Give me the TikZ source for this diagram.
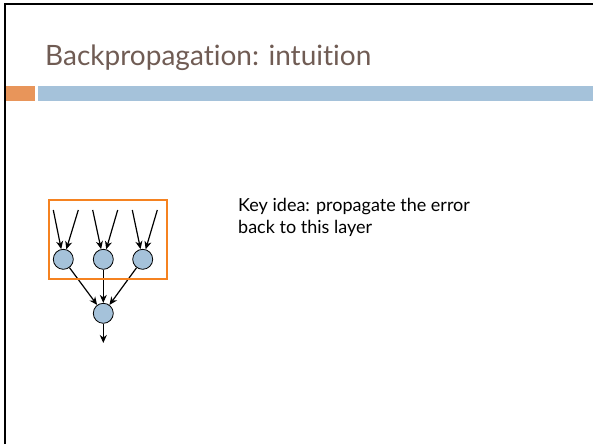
\documentclass[tikz,border=0pt]{standalone}
\usepackage{fontspec}
\setmainfont{Lato}[Ligatures={NoCommon, NoRare}]
\usetikzlibrary{arrows.meta, positioning}
\definecolor{titlebrown}{RGB}{112, 92, 84}
\definecolor{barorange}{RGB}{232, 149, 90}
\definecolor{barblue}{RGB}{165, 194, 218}
\definecolor{boxorange}{RGB}{245, 130, 32}

\tikzset{
    neuron/.style={circle, draw, fill=barblue, minimum size=20pt, inner sep=0pt, line width=0.8pt},
    wire/.style={-{Stealth[length=8pt, width=7pt, inset=2.5pt]}, line width=1.2pt}
}

\begin{document}
\begin{tikzpicture}[x=1pt, y=-1pt]
    \useasboundingbox (0,0) rectangle (593,444);

    % Khung trang chiếu: cạnh trái và cạnh trên
    \draw[line width=2pt] (5,444) -- (5,4) -- (593,4);

    % Tiêu đề
    \node[anchor=base west, inner sep=0pt, text=titlebrown, font=\fontsize{28}{28}\selectfont] (title) at (45,65) {Backpropagation: intuition};

    % Hai thanh ngang dưới tiêu đề
    \fill[barorange] (6,86) rectangle (35,100.5);
    \fill[barblue] (38,86) rectangle (593,100.5);

    % Lớp ẩn: ba nơ-ron
    \node[neuron] (h1) at (63.3,259.3) {};
    \node[neuron] (h2) at (103.3,259.3) {};
    \node[neuron] (h3) at (142.7,259.3) {};

    % Nơ-ron đầu ra
    \node[neuron] (out) at (103.3,313.3) {};
    \coordinate (end) at (103.3,343);

    % Điểm đầu của các mũi tên vào
    \coordinate (a1) at (53.3,210);
    \coordinate (b1) at (78.3,210);
    \coordinate (a2) at (92.7,210);
    \coordinate (b2) at (117.7,210);
    \coordinate (a3) at (132.3,210);
    \coordinate (b3) at (157.3,210);

    % Mũi tên vào mỗi nơ-ron
    \draw[wire] (a1) -- (h1);
    \draw[wire] (b1) -- (h1);
    \draw[wire] (a2) -- (h2);
    \draw[wire] (b2) -- (h2);
    \draw[wire] (a3) -- (h3);
    \draw[wire] (b3) -- (h3);

    % Mũi tên từ lớp ẩn tới đầu ra
    \draw[wire] (h1) -- (out);
    \draw[wire] (h2) -- (out);
    \draw[wire] (h3) -- (out);
    \draw[wire] (out) -- (end);

    % Khung cam quanh lớp ẩn
    \draw[boxorange, line width=1.3pt] (49,200) rectangle (167,279);

    % Ghi chú
    \node[anchor=base west, inner sep=0pt, align=left, font=\fontsize{18}{22}\selectfont] (idea) at (238,233) {Key idea: propagate the error\\back to this layer};
\end{tikzpicture}
\end{document}
